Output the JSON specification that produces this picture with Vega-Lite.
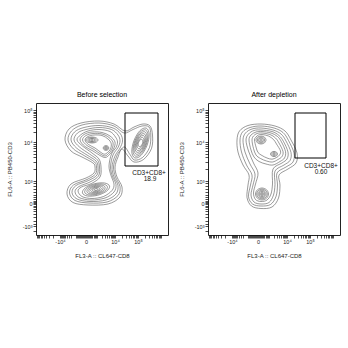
{
"$schema":"https://vega.github.io/schema/vega-lite/v6.json",
"padding":{"left":5,"top":90,"right":0,"bottom":0},
"config":{"font":"Liberation Sans","view":{"stroke":"#222","strokeWidth":1},
"axis":{"grid":false,"domain":false,"tickColor":"black","labelColor":"#222","titleColor":"#222","labelFontSize":5.5,"titleFontSize":6,"titleFontWeight":"normal","labelPadding":1,"titlePadding":4,"labelOverlap":false,"tickWidth":0.7,"tickSize":3,"labelBound":false,"labelFlush":false},
"axisY":{"titlePadding":10},
"axisX":{"titlePadding":8},
"title":{"fontSize":7,"fontWeight":"normal","offset":5,"color":"black"},
"concat":{"spacing":8}},
"datasets":{
"left":[
{"c":"L1","x":290,"y":950},{"c":"L1","x":330,"y":1060},{"c":"L1","x":450,"y":1120},{"c":"L1","x":630,"y":1140},{"c":"L1","x":780,"y":1110},{"c":"L1","x":890,"y":1040},{"c":"L1","x":980,"y":1080},{"c":"L1","x":1070,"y":1110},{"c":"L1","x":1140,"y":1090},{"c":"L1","x":1165,"y":1000},{"c":"L1","x":1155,"y":865},{"c":"L1","x":1075,"y":755},{"c":"L1","x":980,"y":730},{"c":"L1","x":920,"y":790},{"c":"L1","x":860,"y":860},{"c":"L1","x":820,"y":780},{"c":"L1","x":790,"y":680},{"c":"L1","x":810,"y":580},{"c":"L1","x":860,"y":480},{"c":"L1","x":840,"y":380},{"c":"L1","x":720,"y":310},{"c":"L1","x":520,"y":300},{"c":"L1","x":370,"y":325},{"c":"L1","x":310,"y":410},{"c":"L1","x":350,"y":510},{"c":"L1","x":500,"y":570},{"c":"L1","x":580,"y":620},{"c":"L1","x":590,"y":680},{"c":"L1","x":570,"y":720},{"c":"L1","x":460,"y":780},{"c":"L1","x":350,"y":840},
{"c":"L2","x":320,"y":950},{"c":"L2","x":355,"y":1040},{"c":"L2","x":460,"y":1100},{"c":"L2","x":630,"y":1120},{"c":"L2","x":780,"y":1090},{"c":"L2","x":880,"y":1020},{"c":"L2","x":970,"y":1055},{"c":"L2","x":1060,"y":1090},{"c":"L2","x":1130,"y":1080},{"c":"L2","x":1148,"y":1000},{"c":"L2","x":1135,"y":875},{"c":"L2","x":1065,"y":775},{"c":"L2","x":985,"y":750},{"c":"L2","x":940,"y":805},{"c":"L2","x":885,"y":880},{"c":"L2","x":830,"y":830},{"c":"L2","x":800,"y":770},{"c":"L2","x":775,"y":680},{"c":"L2","x":795,"y":580},{"c":"L2","x":840,"y":485},{"c":"L2","x":820,"y":395},{"c":"L2","x":710,"y":330},{"c":"L2","x":530,"y":320},{"c":"L2","x":390,"y":345},{"c":"L2","x":335,"y":420},{"c":"L2","x":375,"y":500},{"c":"L2","x":510,"y":555},{"c":"L2","x":595,"y":610},{"c":"L2","x":605,"y":680},{"c":"L2","x":585,"y":730},{"c":"L2","x":480,"y":795},{"c":"L2","x":375,"y":860},
{"c":"L3","x":350,"y":950},{"c":"L3","x":385,"y":1030},{"c":"L3","x":480,"y":1075},{"c":"L3","x":630,"y":1095},{"c":"L3","x":770,"y":1070},{"c":"L3","x":845,"y":1010},{"c":"L3","x":865,"y":940},{"c":"L3","x":840,"y":870},{"c":"L3","x":790,"y":790},{"c":"L3","x":760,"y":680},{"c":"L3","x":780,"y":580},{"c":"L3","x":820,"y":495},{"c":"L3","x":800,"y":410},{"c":"L3","x":700,"y":350},{"c":"L3","x":540,"y":335},{"c":"L3","x":410,"y":360},{"c":"L3","x":360,"y":425},{"c":"L3","x":400,"y":495},{"c":"L3","x":525,"y":545},{"c":"L3","x":610,"y":600},{"c":"L3","x":620,"y":680},{"c":"L3","x":600,"y":740},{"c":"L3","x":510,"y":800},{"c":"L3","x":405,"y":870},
{"c":"L4","x":380,"y":950},{"c":"L4","x":415,"y":1020},{"c":"L4","x":500,"y":1055},{"c":"L4","x":630,"y":1075},{"c":"L4","x":755,"y":1055},{"c":"L4","x":820,"y":1000},{"c":"L4","x":840,"y":940},{"c":"L4","x":820,"y":875},{"c":"L4","x":770,"y":800},{"c":"L4","x":745,"y":680},{"c":"L4","x":765,"y":585},{"c":"L4","x":800,"y":505},{"c":"L4","x":780,"y":430},{"c":"L4","x":690,"y":370},{"c":"L4","x":550,"y":350},{"c":"L4","x":430,"y":375},{"c":"L4","x":390,"y":435},{"c":"L4","x":430,"y":485},{"c":"L4","x":540,"y":530},{"c":"L4","x":625,"y":590},{"c":"L4","x":635,"y":680},{"c":"L4","x":615,"y":750},{"c":"L4","x":535,"y":810},{"c":"L4","x":435,"y":880},
{"c":"L5","x":410,"y":950},{"c":"L5","x":445,"y":1000},{"c":"L5","x":520,"y":1040},{"c":"L5","x":630,"y":1055},{"c":"L5","x":740,"y":1035},{"c":"L5","x":795,"y":980},{"c":"L5","x":815,"y":930},{"c":"L5","x":800,"y":875},{"c":"L5","x":755,"y":810},{"c":"L5","x":730,"y":690},{"c":"L5","x":750,"y":595},{"c":"L5","x":780,"y":510},{"c":"L5","x":760,"y":445},{"c":"L5","x":675,"y":385},{"c":"L5","x":560,"y":365},{"c":"L5","x":460,"y":385},{"c":"L5","x":420,"y":440},{"c":"L5","x":455,"y":480},{"c":"L5","x":555,"y":515},{"c":"L5","x":640,"y":580},{"c":"L5","x":650,"y":680},{"c":"L5","x":630,"y":760},{"c":"L5","x":560,"y":820},{"c":"L5","x":465,"y":890},
{"c":"U1","x":440,"y":950},{"c":"U1","x":480,"y":1005},{"c":"U1","x":560,"y":1030},{"c":"U1","x":660,"y":1025},{"c":"U1","x":740,"y":990},{"c":"U1","x":790,"y":930},{"c":"U1","x":775,"y":860},{"c":"U1","x":735,"y":805},{"c":"U1","x":695,"y":775},{"c":"U1","x":640,"y":795},{"c":"U1","x":570,"y":840},{"c":"U1","x":490,"y":885},
{"c":"U2","x":465,"y":950},{"c":"U2","x":500,"y":995},{"c":"U2","x":570,"y":1015},{"c":"U2","x":660,"y":1010},{"c":"U2","x":730,"y":975},{"c":"U2","x":770,"y":925},{"c":"U2","x":760,"y":860},{"c":"U2","x":725,"y":815},{"c":"U2","x":690,"y":790},{"c":"U2","x":645,"y":810},{"c":"U2","x":580,"y":855},{"c":"U2","x":510,"y":895},
{"c":"U3","x":490,"y":950},{"c":"U3","x":520,"y":985},{"c":"U3","x":580,"y":1000},{"c":"U3","x":660,"y":995},{"c":"U3","x":720,"y":960},{"c":"U3","x":752,"y":915},{"c":"U3","x":745,"y":860},{"c":"U3","x":715,"y":825},{"c":"U3","x":685,"y":808},{"c":"U3","x":650,"y":825},{"c":"U3","x":590,"y":870},{"c":"U3","x":525,"y":905},
{"c":"A1","x":620,"y":950},{"c":"A1","x":602,"y":971},{"c":"A1","x":560,"y":980},{"c":"A1","x":518,"y":971},{"c":"A1","x":500,"y":950},{"c":"A1","x":518,"y":929},{"c":"A1","x":560,"y":920},{"c":"A1","x":602,"y":929},
{"c":"A2","x":603,"y":950},{"c":"A2","x":590,"y":966},{"c":"A2","x":560,"y":972},{"c":"A2","x":530,"y":966},{"c":"A2","x":517,"y":950},{"c":"A2","x":530,"y":934},{"c":"A2","x":560,"y":928},{"c":"A2","x":590,"y":934},
{"c":"A3","x":588,"y":950},{"c":"A3","x":580,"y":961},{"c":"A3","x":560,"y":965},{"c":"A3","x":540,"y":961},{"c":"A3","x":532,"y":950},{"c":"A3","x":540,"y":939},{"c":"A3","x":560,"y":935},{"c":"A3","x":580,"y":939},
{"c":"A4","x":574,"y":950},{"c":"A4","x":570,"y":956},{"c":"A4","x":560,"y":958},{"c":"A4","x":550,"y":956},{"c":"A4","x":546,"y":950},{"c":"A4","x":550,"y":944},{"c":"A4","x":560,"y":942},{"c":"A4","x":570,"y":944},
{"c":"B1","x":728,"y":870},{"c":"B1","x":720,"y":887},{"c":"B1","x":700,"y":894},{"c":"B1","x":680,"y":887},{"c":"B1","x":672,"y":870},{"c":"B1","x":680,"y":853},{"c":"B1","x":700,"y":846},{"c":"B1","x":720,"y":853},
{"c":"B2","x":718,"y":870},{"c":"B2","x":713,"y":881},{"c":"B2","x":700,"y":885},{"c":"B2","x":687,"y":881},{"c":"B2","x":682,"y":870},{"c":"B2","x":687,"y":859},{"c":"B2","x":700,"y":855},{"c":"B2","x":713,"y":859},
{"c":"B3","x":708,"y":870},{"c":"B3","x":706,"y":875},{"c":"B3","x":700,"y":877},{"c":"B3","x":694,"y":875},{"c":"B3","x":692,"y":870},{"c":"B3","x":694,"y":865},{"c":"B3","x":700,"y":863},{"c":"B3","x":706,"y":865},
{"c":"C1","x":736,"y":489},{"c":"C1","x":686,"y":520},{"c":"C1","x":586,"y":513},{"c":"C1","x":494,"y":472},{"c":"C1","x":464,"y":421},{"c":"C1","x":514,"y":390},{"c":"C1","x":615,"y":397},{"c":"C1","x":706,"y":438},
{"c":"C2","x":714,"y":483},{"c":"C2","x":672,"y":509},{"c":"C2","x":588,"y":504},{"c":"C2","x":511,"y":469},{"c":"C2","x":487,"y":427},{"c":"C2","x":528,"y":401},{"c":"C2","x":612,"y":407},{"c":"C2","x":689,"y":441},
{"c":"C3","x":691,"y":478},{"c":"C3","x":658,"y":499},{"c":"C3","x":590,"y":495},{"c":"C3","x":529,"y":467},{"c":"C3","x":509,"y":432},{"c":"C3","x":543,"y":411},{"c":"C3","x":610,"y":415},{"c":"C3","x":672,"y":443},
{"c":"C4","x":672,"y":473},{"c":"C4","x":645,"y":490},{"c":"C4","x":592,"y":487},{"c":"C4","x":544,"y":465},{"c":"C4","x":528,"y":437},{"c":"C4","x":555,"y":420},{"c":"C4","x":608,"y":423},{"c":"C4","x":656,"y":445},
{"c":"C5","x":653,"y":468},{"c":"C5","x":633,"y":482},{"c":"C5","x":594,"y":479},{"c":"C5","x":558,"y":463},{"c":"C5","x":547,"y":442},{"c":"C5","x":567,"y":428},{"c":"C5","x":606,"y":431},{"c":"C5","x":642,"y":448},
{"c":"C6","x":635,"y":464},{"c":"C6","x":622,"y":473},{"c":"C6","x":596,"y":472},{"c":"C6","x":572,"y":461},{"c":"C6","x":565,"y":446},{"c":"C6","x":578,"y":437},{"c":"C6","x":604,"y":439},{"c":"C6","x":628,"y":449},
{"c":"C7","x":618,"y":459},{"c":"C7","x":611,"y":464},{"c":"C7","x":598,"y":464},{"c":"C7","x":586,"y":458},{"c":"C7","x":583,"y":451},{"c":"C7","x":589,"y":446},{"c":"C7","x":602,"y":446},{"c":"C7","x":614,"y":452},
{"c":"D1","x":1102,"y":1069},{"c":"D1","x":1039,"y":1043},{"c":"D1","x":980,"y":945},{"c":"D1","x":958,"y":832},{"c":"D1","x":988,"y":771},{"c":"D1","x":1051,"y":797},{"c":"D1","x":1110,"y":895},{"c":"D1","x":1132,"y":1008},
{"c":"D2","x":1095,"y":1051},{"c":"D2","x":1041,"y":1028},{"c":"D2","x":989,"y":942},{"c":"D2","x":970,"y":843},{"c":"D2","x":995,"y":789},{"c":"D2","x":1049,"y":812},{"c":"D2","x":1101,"y":899},{"c":"D2","x":1120,"y":997},
{"c":"D3","x":1088,"y":1032},{"c":"D3","x":1041,"y":1012},{"c":"D3","x":996,"y":939},{"c":"D3","x":980,"y":854},{"c":"D3","x":1002,"y":808},{"c":"D3","x":1049,"y":828},{"c":"D3","x":1094,"y":901},{"c":"D3","x":1110,"y":986},
{"c":"D4","x":1081,"y":1013},{"c":"D4","x":1041,"y":997},{"c":"D4","x":1004,"y":936},{"c":"D4","x":991,"y":865},{"c":"D4","x":1009,"y":827},{"c":"D4","x":1049,"y":843},{"c":"D4","x":1086,"y":904},{"c":"D4","x":1099,"y":975},
{"c":"D5","x":1074,"y":995},{"c":"D5","x":1041,"y":982},{"c":"D5","x":1011,"y":933},{"c":"D5","x":1001,"y":876},{"c":"D5","x":1016,"y":845},{"c":"D5","x":1049,"y":858},{"c":"D5","x":1079,"y":907},{"c":"D5","x":1089,"y":964},
{"c":"D6","x":1067,"y":976},{"c":"D6","x":1042,"y":967},{"c":"D6","x":1019,"y":930},{"c":"D6","x":1011,"y":888},{"c":"D6","x":1024,"y":864},{"c":"D6","x":1048,"y":873},{"c":"D6","x":1071,"y":910},{"c":"D6","x":1079,"y":952},
{"c":"D7","x":1059,"y":957},{"c":"D7","x":1042,"y":952},{"c":"D7","x":1026,"y":927},{"c":"D7","x":1022,"y":899},{"c":"D7","x":1031,"y":883},{"c":"D7","x":1048,"y":888},{"c":"D7","x":1064,"y":913},{"c":"D7","x":1068,"y":941}
],
"right":[
{"c":"L1","x":290,"y":950},{"c":"L1","x":315,"y":1040},{"c":"L1","x":400,"y":1095},{"c":"L1","x":530,"y":1110},{"c":"L1","x":670,"y":1090},{"c":"L1","x":770,"y":1040},{"c":"L1","x":830,"y":950},{"c":"L1","x":890,"y":820},{"c":"L1","x":880,"y":720},{"c":"L1","x":800,"y":660},{"c":"L1","x":710,"y":600},{"c":"L1","x":720,"y":500},{"c":"L1","x":705,"y":370},{"c":"L1","x":640,"y":280},{"c":"L1","x":530,"y":265},{"c":"L1","x":435,"y":290},{"c":"L1","x":390,"y":375},{"c":"L1","x":400,"y":500},{"c":"L1","x":410,"y":600},{"c":"L1","x":350,"y":700},{"c":"L1","x":300,"y":830},
{"c":"L2","x":320,"y":950},{"c":"L2","x":345,"y":1030},{"c":"L2","x":420,"y":1075},{"c":"L2","x":530,"y":1090},{"c":"L2","x":660,"y":1070},{"c":"L2","x":750,"y":1025},{"c":"L2","x":805,"y":945},{"c":"L2","x":860,"y":820},{"c":"L2","x":850,"y":730},{"c":"L2","x":780,"y":680},{"c":"L2","x":690,"y":620},{"c":"L2","x":695,"y":500},{"c":"L2","x":680,"y":385},{"c":"L2","x":625,"y":305},{"c":"L2","x":530,"y":290},{"c":"L2","x":445,"y":310},{"c":"L2","x":405,"y":385},{"c":"L2","x":425,"y":500},{"c":"L2","x":440,"y":600},{"c":"L2","x":385,"y":700},{"c":"L2","x":335,"y":830},
{"c":"L3","x":350,"y":950},{"c":"L3","x":375,"y":1020},{"c":"L3","x":440,"y":1060},{"c":"L3","x":530,"y":1070},{"c":"L3","x":650,"y":1050},{"c":"L3","x":730,"y":1010},{"c":"L3","x":780,"y":940},{"c":"L3","x":830,"y":825},{"c":"L3","x":820,"y":745},{"c":"L3","x":760,"y":700},{"c":"L3","x":670,"y":640},{"c":"L3","x":670,"y":505},{"c":"L3","x":655,"y":400},{"c":"L3","x":610,"y":325},{"c":"L3","x":530,"y":310},{"c":"L3","x":460,"y":330},{"c":"L3","x":430,"y":400},{"c":"L3","x":450,"y":500},{"c":"L3","x":470,"y":610},{"c":"L3","x":420,"y":710},{"c":"L3","x":370,"y":830},
{"c":"L4","x":380,"y":950},{"c":"L4","x":405,"y":1010},{"c":"L4","x":460,"y":1045},{"c":"L4","x":530,"y":1050},{"c":"L4","x":640,"y":1035},{"c":"L4","x":710,"y":995},{"c":"L4","x":755,"y":935},{"c":"L4","x":800,"y":830},{"c":"L4","x":790,"y":760},{"c":"L4","x":740,"y":720},{"c":"L4","x":650,"y":660},{"c":"L4","x":645,"y":510},{"c":"L4","x":630,"y":410},{"c":"L4","x":590,"y":350},{"c":"L4","x":530,"y":335},{"c":"L4","x":475,"y":355},{"c":"L4","x":455,"y":420},{"c":"L4","x":475,"y":510},{"c":"L4","x":500,"y":620},{"c":"L4","x":455,"y":720},{"c":"L4","x":405,"y":840},
{"c":"U1","x":410,"y":950},{"c":"U1","x":430,"y":1000},{"c":"U1","x":480,"y":1030},{"c":"U1","x":540,"y":1035},{"c":"U1","x":630,"y":1020},{"c":"U1","x":695,"y":985},{"c":"U1","x":735,"y":930},{"c":"U1","x":775,"y":835},{"c":"U1","x":765,"y":770},{"c":"U1","x":720,"y":735},{"c":"U1","x":650,"y":700},{"c":"U1","x":580,"y":710},{"c":"U1","x":510,"y":735},{"c":"U1","x":460,"y":780},{"c":"U1","x":430,"y":850},
{"c":"U2","x":440,"y":950},{"c":"U2","x":455,"y":990},{"c":"U2","x":490,"y":1015},{"c":"U2","x":540,"y":1020},{"c":"U2","x":620,"y":1005},{"c":"U2","x":675,"y":970},{"c":"U2","x":710,"y":920},{"c":"U2","x":750,"y":835},{"c":"U2","x":740,"y":785},{"c":"U2","x":700,"y":755},{"c":"U2","x":645,"y":730},{"c":"U2","x":585,"y":740},{"c":"U2","x":525,"y":765},{"c":"U2","x":480,"y":800},{"c":"U2","x":455,"y":865},
{"c":"U3","x":465,"y":950},{"c":"U3","x":480,"y":980},{"c":"U3","x":505,"y":1000},{"c":"U3","x":540,"y":1005},{"c":"U3","x":605,"y":990},{"c":"U3","x":655,"y":955},{"c":"U3","x":685,"y":910},{"c":"U3","x":725,"y":840},{"c":"U3","x":715,"y":800},{"c":"U3","x":685,"y":775},{"c":"U3","x":640,"y":758},{"c":"U3","x":590,"y":770},{"c":"U3","x":540,"y":795},{"c":"U3","x":500,"y":825},{"c":"U3","x":480,"y":880},
{"c":"A1","x":580,"y":950},{"c":"A1","x":565,"y":978},{"c":"A1","x":530,"y":990},{"c":"A1","x":495,"y":978},{"c":"A1","x":480,"y":950},{"c":"A1","x":495,"y":922},{"c":"A1","x":530,"y":910},{"c":"A1","x":565,"y":922},
{"c":"A2","x":567,"y":950},{"c":"A2","x":556,"y":971},{"c":"A2","x":530,"y":980},{"c":"A2","x":504,"y":971},{"c":"A2","x":493,"y":950},{"c":"A2","x":504,"y":929},{"c":"A2","x":530,"y":920},{"c":"A2","x":556,"y":929},
{"c":"A3","x":554,"y":950},{"c":"A3","x":547,"y":964},{"c":"A3","x":530,"y":970},{"c":"A3","x":513,"y":964},{"c":"A3","x":506,"y":950},{"c":"A3","x":513,"y":936},{"c":"A3","x":530,"y":930},{"c":"A3","x":547,"y":936},
{"c":"A4","x":542,"y":950},{"c":"A4","x":538,"y":957},{"c":"A4","x":530,"y":960},{"c":"A4","x":522,"y":957},{"c":"A4","x":518,"y":950},{"c":"A4","x":522,"y":943},{"c":"A4","x":530,"y":940},{"c":"A4","x":538,"y":943},
{"c":"B1","x":695,"y":810},{"c":"B1","x":685,"y":828},{"c":"B1","x":660,"y":836},{"c":"B1","x":635,"y":828},{"c":"B1","x":625,"y":810},{"c":"B1","x":635,"y":792},{"c":"B1","x":660,"y":784},{"c":"B1","x":685,"y":792},
{"c":"B2","x":682,"y":810},{"c":"B2","x":676,"y":822},{"c":"B2","x":660,"y":827},{"c":"B2","x":644,"y":822},{"c":"B2","x":638,"y":810},{"c":"B2","x":644,"y":798},{"c":"B2","x":660,"y":793},{"c":"B2","x":676,"y":798},
{"c":"B3","x":670,"y":810},{"c":"B3","x":667,"y":816},{"c":"B3","x":660,"y":818},{"c":"B3","x":653,"y":816},{"c":"B3","x":650,"y":810},{"c":"B3","x":653,"y":804},{"c":"B3","x":660,"y":802},{"c":"B3","x":667,"y":804},
{"c":"C1","x":605,"y":410},{"c":"C1","x":586,"y":452},{"c":"C1","x":540,"y":470},{"c":"C1","x":494,"y":452},{"c":"C1","x":475,"y":410},{"c":"C1","x":494,"y":368},{"c":"C1","x":540,"y":350},{"c":"C1","x":586,"y":368},
{"c":"C2","x":593,"y":410},{"c":"C2","x":577,"y":445},{"c":"C2","x":540,"y":459},{"c":"C2","x":503,"y":445},{"c":"C2","x":487,"y":410},{"c":"C2","x":503,"y":375},{"c":"C2","x":540,"y":361},{"c":"C2","x":577,"y":375},
{"c":"C3","x":581,"y":410},{"c":"C3","x":569,"y":437},{"c":"C3","x":540,"y":448},{"c":"C3","x":511,"y":437},{"c":"C3","x":499,"y":410},{"c":"C3","x":511,"y":383},{"c":"C3","x":540,"y":372},{"c":"C3","x":569,"y":383},
{"c":"C4","x":569,"y":410},{"c":"C4","x":561,"y":429},{"c":"C4","x":540,"y":437},{"c":"C4","x":519,"y":429},{"c":"C4","x":511,"y":410},{"c":"C4","x":519,"y":391},{"c":"C4","x":540,"y":383},{"c":"C4","x":561,"y":391},
{"c":"C5","x":558,"y":410},{"c":"C5","x":553,"y":422},{"c":"C5","x":540,"y":427},{"c":"C5","x":527,"y":422},{"c":"C5","x":522,"y":410},{"c":"C5","x":527,"y":398},{"c":"C5","x":540,"y":393},{"c":"C5","x":553,"y":398},
{"c":"C6","x":548,"y":410},{"c":"C6","x":546,"y":416},{"c":"C6","x":540,"y":418},{"c":"C6","x":534,"y":416},{"c":"C6","x":532,"y":410},{"c":"C6","x":534,"y":404},{"c":"C6","x":540,"y":402},{"c":"C6","x":546,"y":404}
],
"gates":[{"p":"L","x":890,"x2":1220,"y":690,"y2":1220},{"p":"R","x":870,"x2":1180,"y":770,"y2":1220}],
"labels":[{"p":"L","t":"CD3+CD8+","x":1130,"y":620},{"p":"L","t":"18.9","x":1140,"y":560},{"p":"R","t":"CD3+CD8+","x":1130,"y":690},{"p":"R","t":"0.60","x":1130,"y":630}]
},
"hconcat":[
{"width":132,"height":132,"title":"Before selection",
"encoding":{
"x":{"field":"x","type":"quantitative","scale":{"domain":[0,1320],"nice":false,"zero":false},
"axis":{"title":"FL3-A :: CL647-CD8","values":[10,21,33,47,62,80,102,130,171,240,248,256,265,276,290,305,326,352,396,406,417,428,439,449,460,470,480,490,500,510,520,530,540,552,563,575,588,600,612,660,690,712,730,745,757,768,780,790,859,900,928,951,969,984,998,1009,1020,1089,1130,1158,1181,1199,1214,1228,1239,1250],
"labelExpr":"datum.value==240?'-10⁴':datum.value==500?'0':datum.value==790?'10⁴':datum.value==1020?'10⁵':''"}},
"y":{"field":"y","type":"quantitative","scale":{"domain":[0,1320],"nice":false,"zero":false},
"axis":{"title":"FL6-A :: PB450-CD3","values":[40,90,115,145,178,210,240,262,280,295,308,320,332,345,360,378,400,428,460,492,518,540,657,726,775,813,843,870,892,912,930,1026,1083,1123,1154,1179,1200,1219,1235,1250],
"labelExpr":"datum.value==1250?'10⁵':datum.value==930?'10⁴':datum.value==540?'10³':datum.value==320?'0':datum.value==90?'-10³':''"}}},
"layer":[
{"data":{"name":"left"},"mark":{"type":"line","interpolate":"cardinal-closed","strokeWidth":0.6,"color":"#555"},
"encoding":{"detail":{"field":"c"},"order":{"value":null}}},
{"data":{"name":"gates"},"transform":[{"filter":"datum.p=='L'"}],"mark":{"type":"rect","filled":false,"stroke":"black","strokeWidth":1},
"encoding":{"x2":{"field":"x2"},"y2":{"field":"y2"}}},
{"data":{"name":"labels"},"transform":[{"filter":"datum.p=='L'"}],"mark":{"type":"text","fontSize":6.5,"fill":"#111"},
"encoding":{"text":{"field":"t"}}}
]},
{"width":132,"height":132,"title":"After depletion",
"encoding":{
"x":{"field":"x","type":"quantitative","scale":{"domain":[0,1320],"nice":false,"zero":false},
"axis":{"title":"FL3-A :: CL647-CD8","values":[10,21,33,47,62,80,102,130,171,240,248,256,265,276,290,305,326,352,396,406,417,428,439,449,460,470,480,490,500,510,520,530,540,552,563,575,588,600,612,660,690,712,730,745,757,768,780,790,859,900,928,951,969,984,998,1009,1020,1089,1130,1158,1181,1199,1214,1228,1239,1250],
"labelExpr":"datum.value==240?'-10⁴':datum.value==500?'0':datum.value==790?'10⁴':datum.value==1020?'10⁵':''"}},
"y":{"field":"y","type":"quantitative","scale":{"domain":[0,1320],"nice":false,"zero":false},
"axis":{"title":"FL6-A :: PB450-CD3","values":[40,90,115,145,178,210,240,262,280,295,308,320,332,345,360,378,400,428,460,492,518,540,657,726,775,813,843,870,892,912,930,1026,1083,1123,1154,1179,1200,1219,1235,1250],
"labelExpr":"datum.value==1250?'10⁵':datum.value==930?'10⁴':datum.value==540?'10³':datum.value==320?'0':datum.value==90?'-10³':''"}}},
"layer":[
{"data":{"name":"right"},"mark":{"type":"line","interpolate":"cardinal-closed","strokeWidth":0.6,"color":"#555"},
"encoding":{"detail":{"field":"c"},"order":{"value":null}}},
{"data":{"name":"gates"},"transform":[{"filter":"datum.p=='R'"}],"mark":{"type":"rect","filled":false,"stroke":"black","strokeWidth":1},
"encoding":{"x2":{"field":"x2"},"y2":{"field":"y2"}}},
{"data":{"name":"labels"},"transform":[{"filter":"datum.p=='R'"}],"mark":{"type":"text","fontSize":6.5,"fill":"#111"},
"encoding":{"text":{"field":"t"}}}
]}
]
}
